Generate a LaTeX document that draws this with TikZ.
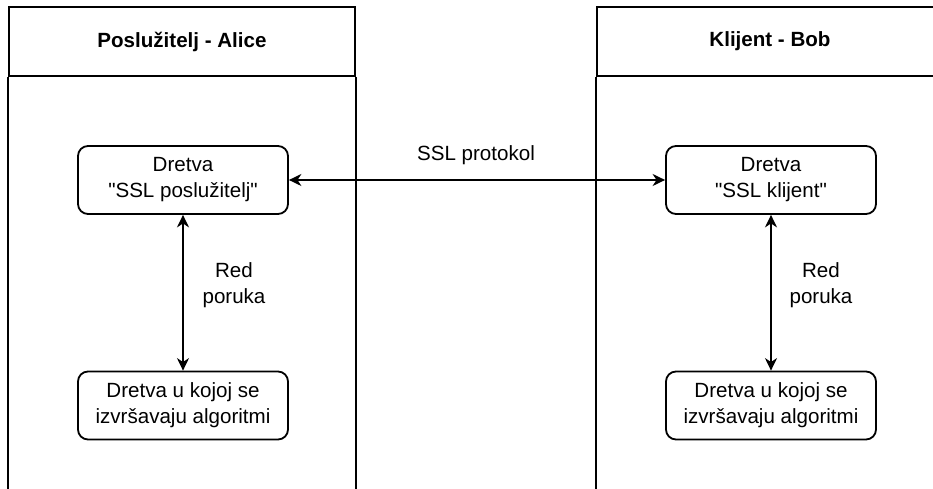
\documentclass[tikz,border=0pt]{standalone}
\usepackage{fontspec}
\newfontfamily\lsans{Liberation Sans}
\usetikzlibrary{arrows.meta}
\def\txt{\lsans\fontsize{11.7}{14.8}\selectfont}

\begin{document}
\begin{tikzpicture}[x=0.2mm, y=-0.2mm, line width=0.36mm,
		lanehead/.style={draw, minimum width=69.2mm, minimum height=13.8mm, inner sep=0pt, font=\txt\bfseries},
		thread/.style={draw, rounded corners=2mm, minimum width=42mm, minimum height=13.6mm, inner sep=0pt, align=center, font=\txt},
		note/.style={align=center, inner sep=0pt, font=\txt},
		link/.style={{Stealth[length=2.5mm, width=2.4mm, inset=0.8mm]}-{Stealth[length=2.5mm, width=2.4mm, inset=0.8mm]}}]
			%%%%% LANES %%%%%
			
			\useasboundingbox (0, 0) rectangle (933, 489);
			\clip (0, 0) rectangle (933, 489);
			
			\node[lanehead] (aliceHead) at (182, 41.5) {Poslužitelj - Alice};
			\draw (aliceHead.south west) -- ++(0, 430);
			\draw (aliceHead.south east) -- ++(0, 430);
			
			\node[lanehead] (bobHead) at (770, 41.5) {Klijent - Bob};
			\draw (bobHead.south west) -- ++(0, 430);
			\draw (bobHead.south east) -- ++(0, 430);
			
			%%%%% THREADS %%%%%
			
			\node[thread] (sslServer) at (183, 180) {Dretva\\"SSL poslužitelj"};
			\node[thread] (algoAlice) at (183, 405.5) {Dretva u kojoj se\\izvršavaju algoritmi};
			
			\node[thread] (sslClient) at (771, 180) {Dretva\\"SSL klijent"};
			\node[thread] (algoBob) at (771, 405.5) {Dretva u kojoj se\\izvršavaju algoritmi};
			
			%%%%% LINKS %%%%%
			
			\draw[link] (sslServer) -- (sslClient);
			\node[note] (protoLabel) at (476, 155) {SSL protokol};
			
			\draw[link] (sslServer) -- (algoAlice);
			\node[note] (queueAlice) at (234, 285) {Red\\poruka};
			
			\draw[link] (sslClient) -- (algoBob);
			\node[note] (queueBob) at (821, 285) {Red\\poruka};
			
			%%%%% END %%%%%
		\end{tikzpicture}
\end{document}
